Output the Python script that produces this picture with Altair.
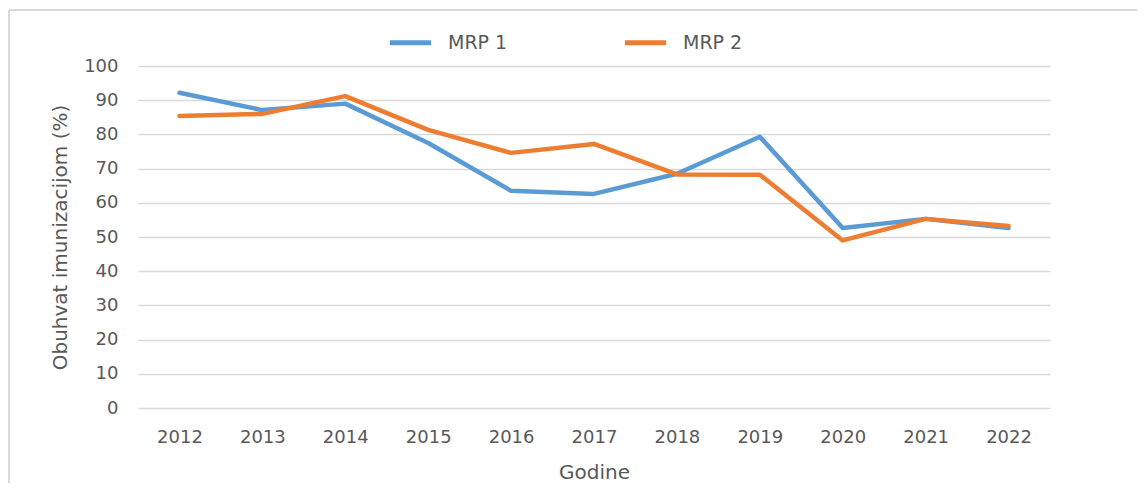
import altair as alt
import pandas as pd

years = ["2012", "2013", "2014", "2015", "2016", "2017", "2018", "2019", "2020", "2021", "2022"]
mrp1 = [92.2, 87.1, 89.0, 77.5, 63.5, 62.6, 68.5, 79.3, 52.6, 55.3, 52.6]
mrp2 = [85.4, 86.0, 91.2, 81.3, 74.6, 77.2, 68.3, 68.2, 49.0, 55.3, 53.2]
series_names = ["MRP 1", "MRP 2"]
series_colors = ["#5B9BD5", "#ED7D31"]
y_ticks = [0, 10, 20, 30, 40, 50, 60, 70, 80, 90, 100]

rows = []
for name, vals in zip(series_names, [mrp1, mrp2]):
    for yr, v in zip(years, vals):
        rows.append({"Godina": yr, "Serija": name, "Vrijednost": v})
df = pd.DataFrame(rows)

FONT = "DejaVu Sans"
TXT = "#595959"

lines = alt.Chart(df).mark_line(strokeWidth=4.5, strokeCap="round", strokeJoin="round").encode(
    x=alt.X("Godina:O", sort=years,
            scale=alt.Scale(type="point", padding=0.5),
            axis=alt.Axis(title="Godine", labelAngle=0, labelPadding=20, ticks=False, domain=False,
                          labelFontSize=18, labelColor=TXT, titleFontSize=20, titleColor=TXT,
                          titleFontWeight="normal", titleY=64, titleBaseline="middle")),
    y=alt.Y("Vrijednost:Q",
            scale=alt.Scale(domain=[0, 100], nice=False),
            axis=alt.Axis(title="Obuhvat imunizacijom (%)", values=y_ticks, ticks=False, domain=False,
                          labelPadding=20, labelFontSize=18, labelColor=TXT,
                          titleFontSize=20, titleColor=TXT, titleFontWeight="normal",
                          gridColor="#D9D9D9", gridWidth=1.3,
                          titleX=-78, titleY=171, titleAngle=-90,
                          titleAlign="center", titleBaseline="middle")),
    color=alt.Color("Serija:N",
                    scale=alt.Scale(domain=series_names, range=series_colors),
                    legend=alt.Legend(title=None, orient="none", direction="horizontal",
                                      legendX=249, legendY=-47,
                                      symbolType="stroke", symbolSize=1700, symbolStrokeWidth=5,
                                      labelFontSize=19, labelColor=TXT, labelOffset=14,
                                      columnPadding=106)),
)

frame_left = alt.Chart(df).mark_rule(color="#D9D9D9", strokeWidth=1.5).encode(
    x=alt.value(-129), y=alt.value(-56), y2=alt.value(420))
frame_top = alt.Chart(df).mark_rule(color="#D9D9D9", strokeWidth=1.5).encode(
    x=alt.value(-129), x2=alt.value(1000), y=alt.value(-56))

chart = alt.layer(frame_left, frame_top, lines).properties(
    width=912, height=342,
    autosize=alt.AutoSizeParams(type="none"),
    padding={"left": 130, "top": 58, "right": 87, "bottom": 75},
).configure(font=FONT).configure_view(stroke=None).configure_axisX(grid=False)

chart.save("out.html", embed_options={"renderer": "svg", "actions": False})
